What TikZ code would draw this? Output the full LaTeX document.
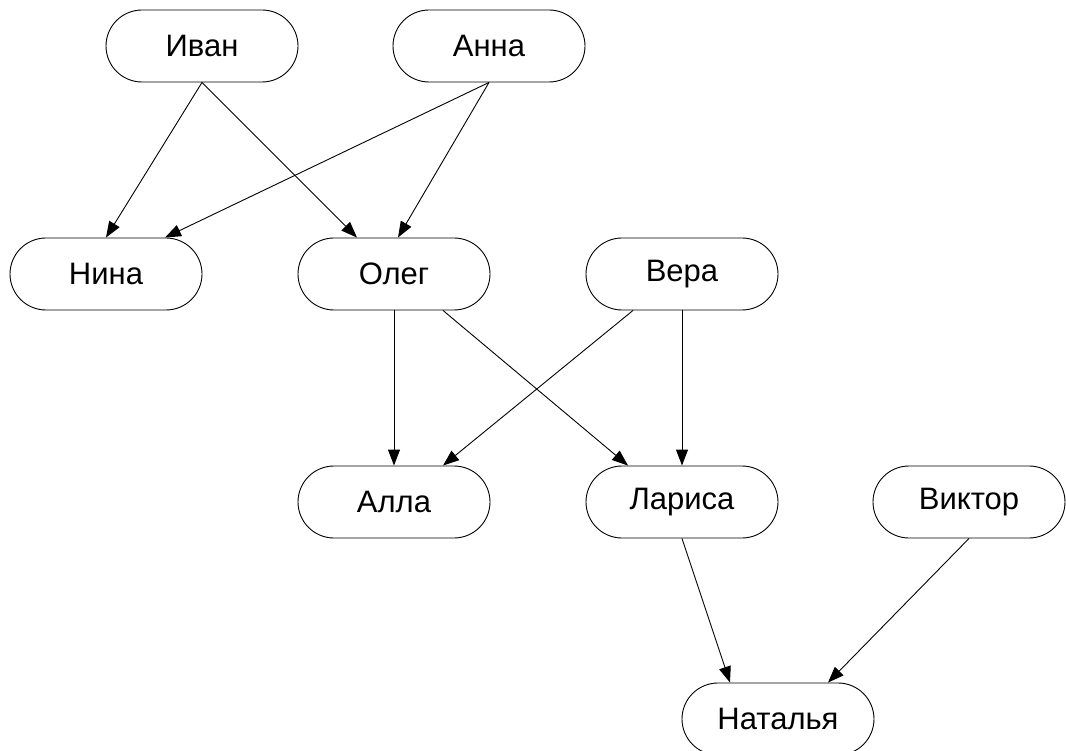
\documentclass[tikz,border=0pt]{standalone}
\usepackage{fontspec}
\setmainfont{Liberation Sans}
\usetikzlibrary{arrows.meta,shapes.misc}
\begin{document}
\begin{tikzpicture}[x=1pt,y=-1pt,
  person/.style={draw=black, line width=0.9pt, rounded rectangle, rounded rectangle arc length=180, fill=white,
    minimum width=192pt, minimum height=72pt, inner sep=0pt,
    font=\fontsize{31}{36}\selectfont},
  edge/.style={draw=black, line width=0.9pt, -{Triangle[length=16pt,width=12pt]}}]
\useasboundingbox (0,0) rectangle (1066,751);
\node[person] (ivan) at (202,46) {Иван};
\node[person] (anna) at (489,46) {Анна};
\node[person] (nina) at (106,274) {Нина};
\node[person] (oleg) at (394,274) {Олег};
\node[person] (vera) at (682,274) {Вера};
\node[person] (alla) at (394,502) {Алла};
\node[person] (larisa) at (682,502) {Лариса};
\node[person] (viktor) at (969,502) {Виктор};
\node[person] (natalya) at (778,719) {Наталья};
\draw[edge] (ivan.south) -- (nina.north);
\draw[edge] (ivan.south) -- ([xshift=-37pt]oleg.north);
\draw[edge] (anna.south) -- ([xshift=59pt]nina.north);
\draw[edge] (anna.south) -- ([xshift=4pt]oleg.north);
\draw[edge] (oleg.south) -- (alla.north);
\draw[edge] ([xshift=49pt]oleg.south) -- ([xshift=-54pt]larisa.north);
\draw[edge] ([xshift=-49pt]vera.south) -- ([xshift=49pt]alla.north);
\draw[edge] (vera.south) -- (larisa.north);
\draw[edge] (larisa.south) -- ([xshift=-48pt]natalya.north);
\draw[edge] (viktor.south) -- ([xshift=50pt]natalya.north);
\end{tikzpicture}
\end{document}
